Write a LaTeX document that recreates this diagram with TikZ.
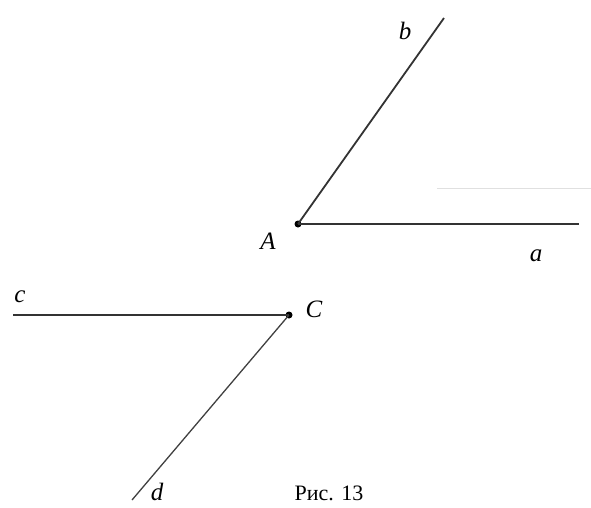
\documentclass[tikz,border=0pt]{standalone}
\usepackage{fontspec}
\setmainfont{Liberation Serif}
\begin{document}
\begin{tikzpicture}[x=1pt,y=-1pt,
  ray/.style={line width=1.8pt, draw=black!80},
  pt/.style={circle, fill=black, inner sep=0pt, minimum size=7pt},
  lbl/.style={font=\fontsize{25}{27}\selectfont\itshape, inner sep=0pt}]
\useasboundingbox (0,0) rectangle (591,507);
\node[pt] (A) at (298,224) {};
\node[pt] (C) at (289,315) {};
\coordinate (ea) at (579,224);
\coordinate (eb) at (444,18);
\coordinate (ec) at (13,315);
\coordinate (ed) at (132,500);
\draw[ray] (A.center) -- (ea);
\draw[ray] (A.center) -- (eb);
\draw[ray] (C.center) -- (ec);
\draw[ray, line width=1.3pt, draw=black!75] (C.center) -- (ed);
\coordinate (f1) at (437,188);
\coordinate (f2) at (591,188);
\draw[black!12, line width=1pt] (f1) -- (f2);
\node[lbl] (lA) at (268,241) {A};
\node[lbl] (la) at (536,256) {a};
\node[lbl] (lb) at (405,31) {b};
\node[lbl] (lc) at (20,297) {c};
\node[lbl] (lC) at (314,309) {C};
\node[lbl] (ld) at (157,492) {d};
\node[font=\fontsize{22}{24}\selectfont, inner sep=0pt] (cap) at (329,493) {Рис. 13};
\end{tikzpicture}
\end{document}
